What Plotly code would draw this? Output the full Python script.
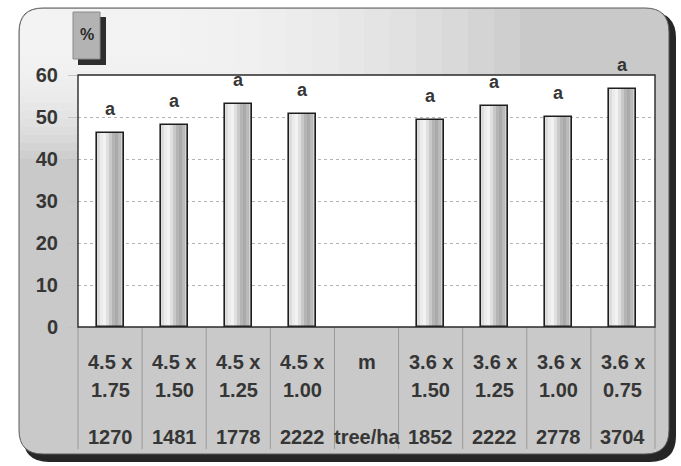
import plotly.graph_objects as go

# ---- data -------------------------------------------------------------
categories = ["4.5 x 1.75", "4.5 x 1.50", "4.5 x 1.25", "4.5 x 1.00", "m",
              "3.6 x 1.50", "3.6 x 1.25", "3.6 x 1.00", "3.6 x 0.75"]
row_spacing_a = ["4.5 x", "4.5 x", "4.5 x", "4.5 x", "m",
                 "3.6 x", "3.6 x", "3.6 x", "3.6 x"]
row_spacing_b = ["1.75", "1.50", "1.25", "1.00", "",
                 "1.50", "1.25", "1.00", "0.75"]
row_density = ["1270", "1481", "1778", "2222", "tree/ha",
               "1852", "2222", "2778", "3704"]
values = [46.2, 48.1, 53.1, 50.7, None, 49.3, 52.6, 50.0, 56.7]
letters = ["a", "a", "a", "a", "", "a", "a", "a", "a"]
y_ticks = [0, 10, 20, 30, 40, 50, 60]
unit_label = "%"

# ---- page geometry (pixels) -------------------------------------------
W, H = 681, 466
ML, MR, MT, MB = 78, 26, 75, 139
PW, PH = W - ML - MR, H - MT - MB


def fx(px):
    return (px - ML) / PW


def fy(py):
    return (H - MB - py) / PH


def rounded_path(x0, y0, x1, y1, r, corners=(True, True, True, True)):
    """Rounded rectangle path (pixel coords, y downward) in paper units."""
    tl, tr, br, bl = [r if c else 0 for c in corners]
    pts = []

    def P(x, y):
        return f"{fx(x):.5f},{fy(y):.5f}"

    pts.append(f"M{P(x0 + tl, y0)}")
    pts.append(f"L{P(x1 - tr, y0)}")
    if tr:
        pts.append(f"Q{P(x1, y0)} {P(x1, y0 + tr)}")
    pts.append(f"L{P(x1, y1 - br)}")
    if br:
        pts.append(f"Q{P(x1, y1)} {P(x1 - br, y1)}")
    pts.append(f"L{P(x0 + bl, y1)}")
    if bl:
        pts.append(f"Q{P(x0, y1)} {P(x0, y1 - bl)}")
    pts.append(f"L{P(x0, y0 + tl)}")
    if tl:
        pts.append(f"Q{P(x0, y0)} {P(x0 + tl, y0)}")
    pts.append("Z")
    return " ".join(pts)


FONT = "Liberation Sans, Arial, sans-serif"
TEXT_COLOR = "#363636"

fig = go.Figure()

# ---- cylinder-shaded bars: thin vertical strips + an outline -----------
bar_w = 0.42
strip_colors = ["#dcdcdc", "#ebebeb", "#f2f2f2", "#e0e0e0", "#c9c9c9",
                "#b4b4b4", "#aaaaaa", "#bababa", "#d4d4d4"]
n = len(strip_colors)
sw = bar_w / n
for i, c in enumerate(strip_colors):
    fig.add_trace(go.Bar(
        x=categories, y=values, width=sw, offset=-bar_w / 2 + i * sw,
        marker=dict(color=c, line=dict(width=0)),
        hoverinfo="skip", showlegend=False,
    ))
fig.add_trace(go.Bar(
    x=categories, y=values, width=bar_w, offset=-bar_w / 2,
    marker=dict(color="rgba(0,0,0,0)", line=dict(color="#1e1e1e", width=1.6)),
    showlegend=False,
))

# ---- shapes: framed backdrop, plot panel, table separators -------------
shapes = []
bx0, by0, bx1, by1 = 19, 8, 669, 454
# drop shadow of the backdrop
shapes.append(dict(type="path", xref="paper", yref="paper", layer="below",
                   path=rounded_path(bx0 + 4, by0 + 4, bx1 + 7, by1 + 8, 26),
                   fillcolor="#262626", line=dict(width=0)))
# backdrop panel
shapes.append(dict(type="path", xref="paper", yref="paper", layer="below",
                   path=rounded_path(bx0, by0, bx1, by1, 24),
                   fillcolor="#c9c9c9", line=dict(color="#5a5a5a", width=1)))
# light sheen towards the upper-left
for k in range(14):
    shapes.append(dict(type="path", xref="paper", yref="paper", layer="below",
                       path=rounded_path(bx0 + 1, by0 + 1,
                                         bx0 + 1 + 500 - 26 * k,
                                         by0 + 1 + 150 - 8 * k, 23,
                                         corners=(True, False, False, False)),
                       fillcolor="rgba(255,255,255,0.12)", line=dict(width=0)))
# white plot panel
shapes.append(dict(type="rect", xref="paper", yref="paper", layer="below",
                   x0=0, x1=1, y0=0, y1=1, fillcolor="white",
                   line=dict(width=0)))
# plot frame
shapes.append(dict(type="rect", xref="paper", yref="paper", layer="above",
                   x0=0, x1=1, y0=0, y1=1, fillcolor="rgba(0,0,0,0)",
                   line=dict(color="#2a2a2a", width=1.4)))
# vertical separators of the category table
for j in range(len(categories) + 1):
    xb = j / len(categories)
    shapes.append(dict(type="line", xref="paper", yref="paper", layer="below",
                       x0=xb, x1=xb, y0=0, y1=fy(449),
                       line=dict(color="#9a9a9a", width=1)))
# unit badge with its shadow
shapes.append(dict(type="rect", xref="paper", yref="paper", layer="below",
                   x0=fx(78), x1=fx(106), y0=fy(65), y1=fy(17),
                   fillcolor="#2e2e2e", line=dict(width=0)))
shapes.append(dict(type="rect", xref="paper", yref="paper", layer="below",
                   x0=fx(73), x1=fx(100), y0=fy(59), y1=fy(12),
                   fillcolor="#b3b3b3", line=dict(color="#8a8a8a", width=1)))

# ---- annotations: significance letters, table rows, unit ---------------
annotations = []
for cat, v, t in zip(categories, values, letters):
    if v is None or not t:
        continue
    annotations.append(dict(x=cat, y=v, xref="x", yref="y",
                            text=f"<b>{t}</b>",
                            showarrow=False, yanchor="bottom", yshift=12,
                            font=dict(family=FONT, size=18, color=TEXT_COLOR)))

for row, py in ((row_spacing_a, 362), (row_spacing_b, 390), (row_density, 437)):
    for cat, t in zip(categories, row):
        if not t:
            continue
        annotations.append(dict(x=cat, y=fy(py), xref="x", yref="paper",
                                text=f"<b>{t}</b>", showarrow=False,
                                yanchor="middle",
                                font=dict(family=FONT, size=20,
                                          color=TEXT_COLOR)))

annotations.append(dict(x=fx(87), y=fy(35), xref="paper", yref="paper",
                        text=f"<b>{unit_label}</b>", showarrow=False,
                        xanchor="center", yanchor="middle",
                        font=dict(family=FONT, size=16, color="#2a2a2a")))

fig.update_layout(
    width=W, height=H,
    margin=dict(l=ML, r=MR, t=MT, b=MB, pad=0),
    paper_bgcolor="white",
    plot_bgcolor="rgba(0,0,0,0)",
    barmode="overlay",
    bargap=0,
    showlegend=False,
    shapes=shapes,
    annotations=annotations,
    xaxis=dict(type="category", categoryarray=categories,
               range=[-0.5, len(categories) - 0.5],
               showticklabels=False, showgrid=False, zeroline=False,
               showline=False, ticks=""),
    yaxis=dict(range=[0, 60], tickvals=y_ticks,
               tickfont=dict(family=FONT, size=20, color=TEXT_COLOR,
                             weight="bold"),
               showgrid=True, gridcolor="#b4b4b4", griddash="dot",
               gridwidth=1, zeroline=False, showline=False,
               ticks="outside", ticklen=9, tickcolor="#c4c4c4",
               ticklabelstandoff=6),
)

fig.write_html("out.html")
